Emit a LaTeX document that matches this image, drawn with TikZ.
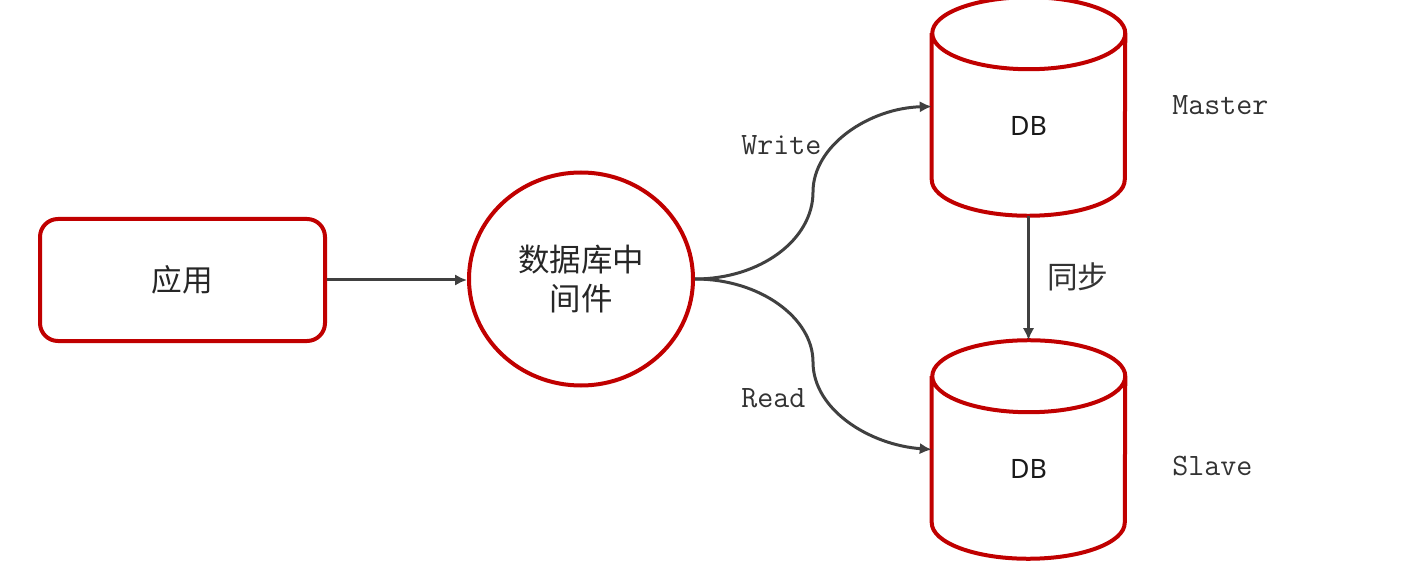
\documentclass[tikz,border=0pt]{standalone}
\usepackage{fontspec}
\setmainfont{Noto Sans}
\newfontfamily\cjk{Noto Sans CJK SC}[Scale=1]
\setmonofont{Latin Modern Mono}
\usetikzlibrary{arrows.meta,shapes.geometric}
\definecolor{dbred}{HTML}{C00000}
\definecolor{linegrey}{HTML}{404040}
\tikzset{
  redline/.style={draw=dbred,line width=3pt},
  appbox/.style={redline,rounded corners=13.5pt,minimum width=213.75pt,minimum height=91.5pt,inner sep=0pt,font=\cjk\fontsize{23}{28}\selectfont,text=black!85},
  midbox/.style={redline,ellipse,minimum width=168pt,minimum height=159.75pt,inner sep=0pt,align=center,font=\cjk\fontsize{23.6}{29}\selectfont,text=black!85},
  dbbox/.style={minimum width=144.75pt,minimum height=163.5pt,inner sep=0pt},
  dbtxt/.style={font=\fontsize{20}{24}\selectfont,text=black!90},
  conn/.style={draw=linegrey,line width=2.25pt,-{Latex[length=9pt,width=8.5pt]}},
  tag/.style={font=\ttfamily\fontsize{23.3}{26}\selectfont,text=black!80,anchor=west,inner sep=0pt},
  cjktag/.style={font=\cjk\fontsize{23}{26}\selectfont,text=black!80,anchor=west,inner sep=0pt}
}
\newcommand{\dbcyl}[1]{%
  \draw[redline] ([yshift=-27pt]#1.north west) -- ([yshift=27pt]#1.south west)
    arc[start angle=180,end angle=360,x radius=72.375pt,y radius=27pt]
    -- ([yshift=-27pt]#1.north east)
    arc[start angle=0,end angle=360,x radius=72.375pt,y radius=27pt];
}
\begin{document}
\begin{tikzpicture}[x=0.75pt,y=-0.75pt]
\useasboundingbox (0,0) rectangle (1405,566);
\node[appbox] (app) at (182.5,280) {应用};
\node[midbox] (mid) at (581,279) {数据库中\\间件};
\node[dbbox] (master) at (1028.5,106.5) {};
\node[dbbox] (slave) at (1028.5,449.5) {};
\dbcyl{master}
\dbcyl{slave}
\node[dbtxt] (mlabel) at (1028.5,126) {DB};
\node[dbtxt] (slabel) at (1028.5,469) {DB};
\draw[conn] (app.east) -- (app.east -| mid.west);
\draw[conn] (mid.east) .. controls (760,279) and (813,240) .. (813,192)
  .. controls (813,145) and (870,108) .. (master.west);
\draw[conn] (mid.east) .. controls (760,279) and (813,318) .. (813,362)
  .. controls (813,410) and (870,445) .. (slave.west);
\draw[conn] (master.south) -- (slave.north);
\node[tag] (write) at (741,145) {Write};
\node[tag] (read) at (741,398) {Read};
\node[tag] (mastertxt) at (1172,105) {Master};
\node[tag] (slavetxt) at (1172,466) {Slave};
\node[cjktag] (sync) at (1047,277) {同步};
\end{tikzpicture}
\end{document}
